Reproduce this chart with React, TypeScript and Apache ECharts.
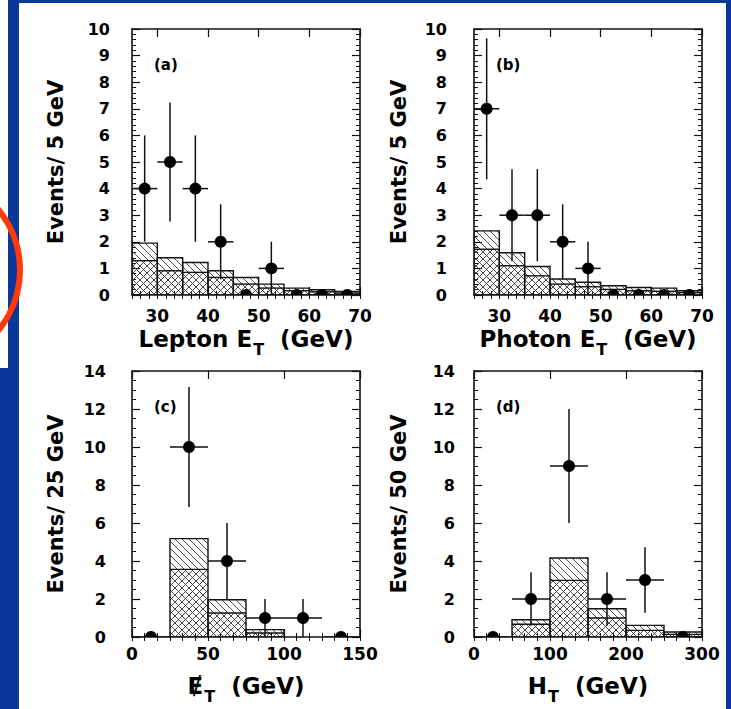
import React, { useEffect, useRef } from 'react';
import * as echarts from 'echarts';

// ---------- DATA ----------
// (a) Lepton E_T, 5 GeV bins
const aEdges = [25, 30, 35, 40, 45, 50, 55, 60, 65, 70];
const aLower = [1.29, 0.91, 0.85, 0.66, 0.41, 0.26, 0.16, 0.12, 0.07];
const aTotal = [1.95, 1.4, 1.22, 0.91, 0.66, 0.41, 0.26, 0.2, 0.13];
const aCounts = [4, 5, 4, 2, 0, 1, 0, 0, 0];
const aErrLow = [2.0, 2.76, 2.0, 0.59, 0, 0, 0, 0, 0];
const aErrHigh = [6.0, 7.24, 6.0, 3.41, 0, 2.0, 0, 0, 0];

// (b) Photon E_T, 5 GeV bins
const bEdges = [25, 30, 35, 40, 45, 50, 55, 60, 65, 70];
const bLower = [1.72, 1.1, 0.72, 0.41, 0.31, 0.21, 0.16, 0.14, 0.09];
const bTotal = [2.41, 1.59, 1.07, 0.6, 0.48, 0.35, 0.28, 0.26, 0.16];
const bCounts = [7, 3, 3, 2, 1, 0, 0, 0, 0];
const bErrLow = [4.35, 1.27, 1.27, 0.59, 0, 0, 0, 0, 0];
const bErrHigh = [9.65, 4.73, 4.73, 3.41, 2.0, 0, 0, 0, 0];

// (c) missing E_T, 25 GeV bins
const cEdges = [0, 25, 50, 75, 100, 125, 150];
const cLower = [0, 3.56, 1.26, 0.21, 0, 0];
const cTotal = [0, 5.18, 1.96, 0.39, 0, 0];
const cCounts = [0, 10, 4, 1, 1, 0];
const cErrLow = [0, 6.84, 2.0, 0, 0, 0];
const cErrHigh = [0, 13.16, 6.0, 2.0, 2.0, 0];

// (d) H_T, 50 GeV bins
const dEdges = [0, 50, 100, 150, 200, 250, 300];
const dLower = [0, 0.67, 2.98, 1.0, 0.35, 0.14];
const dTotal = [0, 0.91, 4.16, 1.49, 0.61, 0.26];
const dCounts = [0, 2, 9, 2, 3, 0];
const dErrLow = [0, 0.59, 6.0, 0.59, 1.27, 0];
const dErrHigh = [0, 3.41, 12.0, 3.41, 4.73, 0];

// tick labels
const abXLabels = [30, 40, 50, 60, 70];
const cXLabels = [0, 50, 100, 150];
const dXLabels = [0, 100, 200, 300];

const FONT = "'DejaVu Sans', 'Liberation Sans', sans-serif";
const INK = '#111';

type Panel = {
  tag: string;
  edges: number[];
  lower: number[];
  total: number[];
  counts: number[];
  errLow: number[];
  errHigh: number[];
  grid: { left: number; top: number; width: number; height: number };
  xMin: number; xMax: number; xInterval: number; xMajors: number[]; xMinorSplit: number;
  yMax: number; yInterval: number; yMinorSplit: number;
  xName: string; yName: string;
  xLabelMargin: number; yLabelMargin: number; xNameGap: number; yNameGap: number;
};

const panels: Panel[] = [
  {
    tag: '(a)', edges: aEdges, lower: aLower, total: aTotal, counts: aCounts, errLow: aErrLow, errHigh: aErrHigh,
    grid: { left: 132, top: 29, width: 228, height: 266 },
    xMin: 25, xMax: 70, xInterval: 5, xMajors: abXLabels, xMinorSplit: 3,
    yMax: 10, yInterval: 1, yMinorSplit: 5,
    xName: '{t|Lepton E}{s|T}{t|  (GeV)}', yName: 'Events/ 5 GeV',
    xLabelMargin: 12, yLabelMargin: 22, xNameGap: 32, yNameGap: 66,
  },
  {
    tag: '(b)', edges: bEdges, lower: bLower, total: bTotal, counts: bCounts, errLow: bErrLow, errHigh: bErrHigh,
    grid: { left: 474, top: 29, width: 228, height: 266 },
    xMin: 25, xMax: 70, xInterval: 5, xMajors: abXLabels, xMinorSplit: 3,
    yMax: 10, yInterval: 1, yMinorSplit: 5,
    xName: '{t|Photon E}{s|T}{t|  (GeV)}', yName: 'Events/ 5 GeV',
    xLabelMargin: 12, yLabelMargin: 27, xNameGap: 32, yNameGap: 65,
  },
  {
    tag: '(c)', edges: cEdges, lower: cLower, total: cTotal, counts: cCounts, errLow: cErrLow, errHigh: cErrHigh,
    grid: { left: 132, top: 371, width: 228, height: 266 },
    xMin: 0, xMax: 150, xInterval: 50, xMajors: cXLabels, xMinorSplit: 6,
    yMax: 14, yInterval: 2, yMinorSplit: 4,
    xName: '{t|Ɇ}{s|T}{t|  (GeV)}', yName: 'Events/ 25 GeV',
    xLabelMargin: 8, yLabelMargin: 26, xNameGap: 37, yNameGap: 66,
  },
  {
    tag: '(d)', edges: dEdges, lower: dLower, total: dTotal, counts: dCounts, errLow: dErrLow, errHigh: dErrHigh,
    grid: { left: 474, top: 371, width: 228, height: 266 },
    xMin: 0, xMax: 300, xInterval: 100, xMajors: dXLabels, xMinorSplit: 6,
    yMax: 14, yInterval: 2, yMinorSplit: 4,
    xName: '{t|H}{s|T}{t|  (GeV)}', yName: 'Events/ 50 GeV',
    xLabelMargin: 8, yLabelMargin: 19, xNameGap: 37, yNameGap: 65,
  },
];

// hatch lines inside a pixel rectangle; dir +1 => "\" , dir -1 => "/"
function hatchLines(x0: number, y0: number, x1: number, y1: number, dir: number, period: number) {
  const out: number[][] = [];
  if (x1 - x0 < 0.5 || y1 - y0 < 0.5) return out;
  if (dir > 0) {
    const bMin = y0 - x1, bMax = y1 - x0;
    for (let k = Math.ceil(bMin / period); k * period <= bMax; k++) {
      const b = k * period;
      const xa = Math.max(x0, y0 - b), xb = Math.min(x1, y1 - b);
      if (xb > xa) out.push([xa, xa + b, xb, xb + b]);
    }
  } else {
    const bMin = x0 + y0, bMax = x1 + y1;
    for (let k = Math.ceil(bMin / period); k * period <= bMax; k++) {
      const b = k * period;
      const xa = Math.max(x0, b - y1), xb = Math.min(x1, b - y0);
      if (xb > xa) out.push([xa, b - xa, xb, b - xb]);
    }
  }
  return out;
}

function lineEl(p: number[], width: number, color: string) {
  return {
    type: 'line',
    shape: { x1: p[0], y1: p[1], x2: p[2], y2: p[3] },
    style: { stroke: color, lineWidth: width },
  };
}

const PERIOD = 7;

function histRender(params: any, api: any) {
  const x0 = api.value(0), x1 = api.value(1), lo = api.value(2), tot = api.value(3);
  if (!(tot > 0)) return { type: 'group', children: [] };
  const pBase = api.coord([x0, 0]);
  const pRight = api.coord([x1, 0]);
  const pLo = api.coord([x0, lo]);
  const pTot = api.coord([x0, tot]);
  const L = pBase[0], R = pRight[0], B = pBase[1], yLo = pLo[1], yTot = pTot[1];
  const children: any[] = [];
  // cross hatch (lower component)
  hatchLines(L, yLo, R, B, 1, PERIOD).forEach((s) => children.push(lineEl(s, 0.9, '#333')));
  hatchLines(L, yLo, R, B, -1, PERIOD).forEach((s) => children.push(lineEl(s, 0.9, '#333')));
  // single hatch (upper component)
  hatchLines(L, yTot, R, yLo, 1, PERIOD).forEach((s) => children.push(lineEl(s, 0.9, '#333')));
  // outlines
  children.push({
    type: 'rect',
    shape: { x: L, y: yTot, width: R - L, height: B - yTot },
    style: { fill: 'none', stroke: INK, lineWidth: 1.4 },
  });
  children.push(lineEl([L, yLo, R, yLo], 1.4, INK));
  return { type: 'group', children };
}

function pointRender(params: any, api: any) {
  const xl = api.value(0), xh = api.value(1), y = api.value(2), el = api.value(3), eh = api.value(4);
  const pL = api.coord([xl, y]);
  const pR = api.coord([xh, y]);
  const cx = (pL[0] + pR[0]) / 2;
  const children: any[] = [lineEl([pL[0], pL[1], pR[0], pR[1]], 1.5, INK)];
  if (eh > el) {
    const a = api.coord([xl, el]);
    const b = api.coord([xl, eh]);
    children.push(lineEl([cx, a[1], cx, b[1]], 1.5, INK));
  }
  children.push({ type: 'circle', shape: { cx, cy: pL[1], r: 6 }, style: { fill: '#000' } });
  return { type: 'group', children };
}

function buildOption() {
  const grid: any[] = [];
  const xAxis: any[] = [];
  const yAxis: any[] = [];
  const series: any[] = [];
  const graphic: any[] = [
    { type: 'rect', z: -10, shape: { x: 0, y: 0, width: 8, height: 368 }, style: { fill: '#fff' } },
    { type: 'rect', z: -10, shape: { x: 19, y: 3, width: 707, height: 706 }, style: { fill: '#fff' } },
    { type: 'circle', z: -9, shape: { cx: -75, cy: 270, r: 95 }, style: { fill: 'none', stroke: '#ff3a08', lineWidth: 6 } },
  ];
  const tickLabel = { color: '#000', fontFamily: FONT, fontWeight: 'bold', fontSize: 16, lineHeight: 16 };
  const axLine = { show: true, onZero: false, lineStyle: { color: INK, width: 1.6 } };

  panels.forEach((p, i) => {
    grid.push({ ...p.grid, containLabel: false });
    const xBase = { type: 'value', gridIndex: i, min: p.xMin, max: p.xMax, interval: p.xInterval, splitLine: { show: false } };
    const majors = p.xMajors;
    const fmt = (v: number) => (majors.indexOf(v) >= 0 ? String(v) : '');
    const xi = xAxis.length;
    // bottom major (with labels)
    xAxis.push({
      ...xBase, position: 'bottom', axisLine: axLine,
      axisTick: { show: true, inside: true, length: 8, customValues: majors, lineStyle: { color: INK, width: 1.2 } },
      minorTick: { show: false },
      axisLabel: { show: true, customValues: majors, formatter: fmt, margin: p.xLabelMargin, ...tickLabel, fontSize: 17, lineHeight: 17 },
      name: p.xName, nameLocation: 'middle', nameGap: p.xNameGap,
      nameTextStyle: {
        color: '#000',
        rich: {
          t: { fontFamily: FONT, fontWeight: 'bold', fontSize: 23, lineHeight: 22, verticalAlign: 'top', color: '#000' },
          s: { fontFamily: FONT, fontWeight: 'bold', fontSize: 16, lineHeight: 16, padding: [14, 0, 0, 1], verticalAlign: 'top', color: '#000' },
        },
      },
    });
    // bottom minor
    xAxis.push({
      ...xBase, position: 'bottom', axisLine: { show: false },
      axisTick: { show: true, inside: true, length: 4, lineStyle: { color: INK, width: 1 } },
      minorTick: { show: true, splitNumber: p.xMinorSplit, length: 4, lineStyle: { color: INK, width: 1 } },
      axisLabel: { show: false },
    });
    // top major
    xAxis.push({
      ...xBase, position: 'top', axisLine: axLine,
      axisTick: { show: true, inside: true, length: 8, customValues: majors, lineStyle: { color: INK, width: 1.2 } },
      minorTick: { show: false },
      axisLabel: { show: false },
    });
    // top minor
    xAxis.push({
      ...xBase, position: 'top', axisLine: { show: false },
      axisTick: { show: true, inside: true, length: 4, lineStyle: { color: INK, width: 1 } },
      minorTick: { show: true, splitNumber: p.xMinorSplit, length: 4, lineStyle: { color: INK, width: 1 } },
      axisLabel: { show: false },
    });

    const yBase = { type: 'value', gridIndex: i, min: 0, max: p.yMax, interval: p.yInterval, splitLine: { show: false } };
    const yi = yAxis.length;
    yAxis.push({
      ...yBase, position: 'left', axisLine: axLine,
      axisTick: { show: true, inside: true, length: 8, lineStyle: { color: INK, width: 1.2 } },
      minorTick: { show: true, splitNumber: p.yMinorSplit, length: 4, lineStyle: { color: INK, width: 1 } },
      axisLabel: { show: true, margin: p.yLabelMargin, ...tickLabel },
      name: p.yName, nameLocation: 'middle', nameGap: p.yNameGap,
      nameTextStyle: { fontFamily: FONT, fontWeight: 'bold', fontSize: 21, color: '#000' },
    });
    yAxis.push({
      ...yBase, position: 'right', axisLine: axLine,
      axisTick: { show: true, inside: true, length: 8, lineStyle: { color: INK, width: 1.2 } },
      minorTick: { show: true, splitNumber: p.yMinorSplit, length: 4, lineStyle: { color: INK, width: 1 } },
      axisLabel: { show: false },
    });

    const histData = p.lower.map((lo, k) => [p.edges[k], p.edges[k + 1], lo, p.total[k]]);
    series.push({
      type: 'custom', name: 'background ' + p.tag, xAxisIndex: xi, yAxisIndex: yi,
      renderItem: histRender, data: histData, encode: { x: [0, 1], y: [2, 3] }, clip: true, z: 2, silent: true,
    });
    const ptData = p.counts.map((n, k) => [p.edges[k], p.edges[k + 1], n, p.errLow[k], p.errHigh[k]]);
    series.push({
      type: 'custom', name: 'data ' + p.tag, xAxisIndex: xi, yAxisIndex: yi,
      renderItem: pointRender, data: ptData, encode: { x: [0, 1], y: [2, 3, 4] }, clip: true, z: 3, silent: true,
    });

    graphic.push({
      type: 'text', z: 10, left: p.grid.left + 22, top: p.grid.top + 28,
      style: { text: p.tag, fontFamily: FONT, fontWeight: 'bold', fontSize: 15, fill: '#000' },
    });
  });

  return {
    animation: false,
    backgroundColor: '#0a389a',
    grid, xAxis, yAxis, series, graphic,
  };
}

export default function App() {
  const ref = useRef<HTMLDivElement>(null);
  useEffect(() => {
    if (!ref.current) return;
    const chart = echarts.init(ref.current, null, { renderer: 'svg', width: 731, height: 709 });
    chart.setOption(buildOption() as any);
    return () => chart.dispose();
  }, []);
  return <div ref={ref} style={{ position: 'fixed', left: 0, top: 0, width: 731, height: 709 }} />;
}
